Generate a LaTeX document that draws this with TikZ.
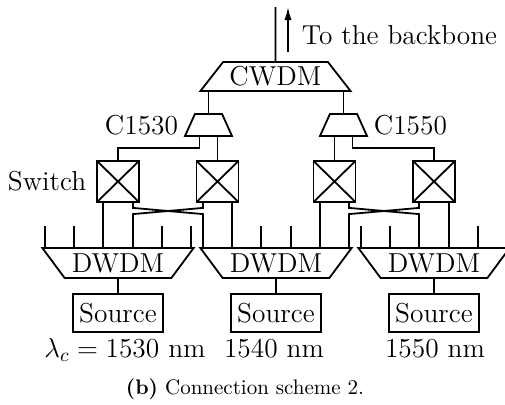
\RequirePackage{fix-cm}
\documentclass[tikz,border=0pt]{standalone}
\usepackage{amsmath}
\usepackage{tikz}
\usetikzlibrary{arrows,arrows.meta,positioning,calc,shapes.geometric}

\tikzset{
  mux/.style={draw, trapezium, trapezium stretches=true, inner sep=0pt},
  switchbox/.style={draw, inner sep=0pt, minimum width=21pt, minimum height=20.5pt,
    path picture={\draw (path picture bounding box.north west) -- (path picture bounding box.south east)
                        (path picture bounding box.north east) -- (path picture bounding box.south west);}},
  srcbox/.style={draw, inner sep=0pt, minimum width=45pt, minimum height=19pt},
  lbl/.style={inner sep=0pt}
}

\begin{document}
\begin{tikzpicture}[x=0.5pt,y=0.5pt,line width=0.9pt,font=\fontsize{13.7}{16}\selectfont]
    \useasboundingbox (0,0) rectangle (505,404);

    % multiplexers
    \node [mux, trapezium left angle=45, trapezium right angle=45,
           minimum width=75.5pt, minimum height=14.5pt] (cwdm) at (275.5,327.5) {CWDM};
    \node [mux, inner sep=1pt, trapezium left angle=70, trapezium right angle=70,
           minimum width=23.5pt, minimum height=11pt] (c1530) at (208.5,279) {};
    \node [mux, inner sep=1pt, trapezium left angle=70, trapezium right angle=70,
           minimum width=23.5pt, minimum height=11pt] (c1550) at (343.5,279) {};
    \node [lbl, left=5pt of c1530] (l1530) {C1530};
    \node [lbl, right=5pt of c1550] (l1550) {C1550};

    % switches
    \node [switchbox] (sw1) at (118,222.5) {};
    \node [switchbox] (sw2) at (217.5,222.5) {};
    \node [switchbox] (sw3) at (334.5,222.5) {};
    \node [switchbox] (sw4) at (434,222.5) {};
    \node [lbl, left=4.5pt of sw1] (lsw) {Switch};

    % dwdm + sources
    \node [mux, trapezium left angle=135, trapezium right angle=135,
           minimum width=76pt, minimum height=15pt] (dw1) at (118,141) {DWDM};
    \node [mux, trapezium left angle=135, trapezium right angle=135,
           minimum width=76pt, minimum height=15pt] (dw2) at (276,141) {DWDM};
    \node [mux, trapezium left angle=135, trapezium right angle=135,
           minimum width=76pt, minimum height=15pt] (dw3) at (434,141) {DWDM};
    \node [srcbox] (src1) at (118,91) {Source};
    \node [srcbox] (src2) at (276,91) {Source};
    \node [srcbox] (src3) at (434,91) {Source};

    \node [lbl, anchor=base] (lam1) at (125,47) {$\lambda_c = 1530$ nm};
    \node [lbl, anchor=base] (lam2) at (274,47) {1540 nm};
    \node [lbl, anchor=base] (lam3) at (435,47) {1550 nm};
    \node [lbl, anchor=base] (cap) at (245,10) {\fontsize{10.5}{12}\selectfont\textbf{(b)} Connection scheme 2.};

    % backbone
    \coordinate (top) at (275.5,397);
    \coordinate (arrlo) at (288,352);
    \coordinate (arrhi) at (288,397);
    \node [lbl, anchor=base west] (bb) at (301,360) {To the backbone};
    \draw (cwdm.north) -- (top);
    \draw [-{Latex[length=6.5pt,width=3.6pt]}] (arrlo) -- (arrhi);

    % cwdm to c-band muxes to switches
    \draw (c1530.north) -- (c1530.north |- cwdm.south);
    \draw (c1550.north) -- (c1550.north |- cwdm.south);
    \draw (sw2.north) -- (sw2.north |- c1530.south);
    \draw (sw3.north) -- (sw3.north |- c1550.south);
    \draw ($(c1530.south)+(-9,0)$) -- ++(0,-11) -| (sw1.north);
    \draw ($(c1550.south)+(9,0)$) -- ++(0,-11) -| (sw4.north);

    % dwdm ports
    \foreach \d in {1,2,3}{
      \foreach \o [count=\k] in {-73,-44,-15,15,44,73}
        \draw ($(dw\d.north)+(\o,0)$) coordinate (t\d\k) -- ++(0,21);
      \draw (src\d.north) -- (dw\d.south);
    }

    % switches to dwdm
    \draw (t13) -- (t13 |- sw1.south);
    \draw (t22) -- (t22 |- sw2.south);
    \draw (t25) -- (t25 |- sw3.south);
    \draw (t34) -- (t34 |- sw4.south);
    \draw (t14 |- sw1.south) -- ++(0,-5) -- ($(t21)+(0,33)$) -- (t21);
    \draw (t21 |- sw2.south) -- ++(0,-5) -- ($(t14)+(0,33)$) -- (t14);
    \draw (t26 |- sw3.south) -- ++(0,-5) -- ($(t33)+(0,33)$) -- (t33);
    \draw (t33 |- sw4.south) -- ++(0,-5) -- ($(t26)+(0,33)$) -- (t26);
\end{tikzpicture}
\end{document}
